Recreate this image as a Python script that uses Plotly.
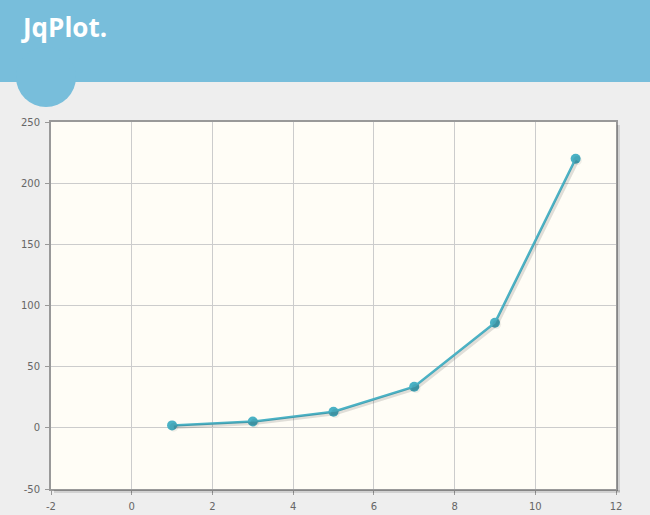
import plotly.graph_objects as go

# ---- data ----
x_vals = [1, 3, 5, 7, 9, 11]
y_vals = [2, 5.12, 13.1, 33.6, 85.9, 219.9]
x_ticks = [-2, 0, 2, 4, 6, 8, 10, 12]
y_ticks = [-50, 0, 50, 100, 150, 200, 250]
title_text = "JqPlot."

W, H = 650, 515
L, R, T, B = 51, 616, 122, 489
PW, PH = R - L, B - T


def px(x):
    return (x - L) / PW


def py(y):
    return (B - y) / PH


xr = [-2, 12]
yr = [-50, 250]
# shadow offset in pixels converted to data units
sdx = 1.8 * (xr[1] - xr[0]) / PW
sdy = 1.8 * (yr[1] - yr[0]) / PH

LINE = "#4bb2c5"

fig = go.Figure()
# shadow trace (on offset overlay axes)
fig.add_trace(go.Scatter(
    x=x_vals, y=y_vals, mode="lines+markers", xaxis="x2", yaxis="y2",
    line=dict(color="rgba(0,0,0,0.12)", width=3.5),
    marker=dict(size=9, color="rgba(0,0,0,0.06)"),
    hoverinfo="skip", showlegend=False))
fig.add_trace(go.Scatter(
    x=x_vals, y=y_vals, mode="lines+markers",
    line=dict(color=LINE, width=2.5),
    marker=dict(size=10, color=LINE, line=dict(width=0)),
    showlegend=False))

tickfont = dict(family="DejaVu Sans", size=10, color="#666666")
common = dict(showgrid=True, gridcolor="#cccccc", gridwidth=1, zeroline=False,
              showline=True, linecolor="#999999", linewidth=2, mirror=True,
              ticks="outside", ticklen=4, tickcolor="#999999", tickwidth=1,
              tickfont=tickfont, fixedrange=True, automargin=False)
fig.update_layout(
    width=W, height=H, autosize=False,
    margin=dict(l=L, r=W - R, t=T, b=H - B, pad=0, autoexpand=False),
    paper_bgcolor="#eeeeee", plot_bgcolor="#fffdf6",
    xaxis=dict(range=xr, tickvals=x_ticks, ticktext=[str(v) for v in x_ticks],
               ticklabelstandoff=3, **common),
    yaxis=dict(range=yr, tickvals=y_ticks, ticktext=[str(v) for v in y_ticks],
               ticklabelstandoff=3, **common),
    xaxis2=dict(range=[xr[0] - sdx, xr[1] - sdx], overlaying="x", visible=False,
                fixedrange=True),
    yaxis2=dict(range=[yr[0] + sdy, yr[1] + sdy], overlaying="y", visible=False,
                fixedrange=True),
)

shapes = []
# header band
shapes.append(dict(type="rect", xref="paper", yref="paper",
                   x0=px(0), x1=px(W), y0=py(82), y1=py(0),
                   fillcolor="#78bedb", line=dict(width=0), layer="below"))
# header circle
shapes.append(dict(type="circle", xref="paper", yref="paper",
                   x0=px(16), x1=px(76), y0=py(107), y1=py(47),
                   fillcolor="#78bedb", line=dict(width=0), layer="below"))
# border shadow (right & bottom)
shapes.append(dict(type="line", xref="paper", yref="paper",
                   x0=px(R + 2.5), x1=px(R + 2.5), y0=py(B + 3), y1=py(T + 3),
                   line=dict(color="rgba(0,0,0,0.12)", width=3)))
shapes.append(dict(type="line", xref="paper", yref="paper",
                   x0=px(L + 3), x1=px(R + 4), y0=py(B + 2.5), y1=py(B + 2.5),
                   line=dict(color="rgba(0,0,0,0.12)", width=3)))
fig.update_layout(shapes=shapes)

fig.add_annotation(text="<b>" + title_text + "</b>", xref="paper", yref="paper",
                   x=px(19), y=py(27), xanchor="left", yanchor="middle",
                   showarrow=False,
                   font=dict(family="Open Sans", size=26, color="white"))

fig.write_html("out.html", config={"displayModeBar": False},
               post_script="document.body.style.margin='0';document.body.style.padding='0';")
